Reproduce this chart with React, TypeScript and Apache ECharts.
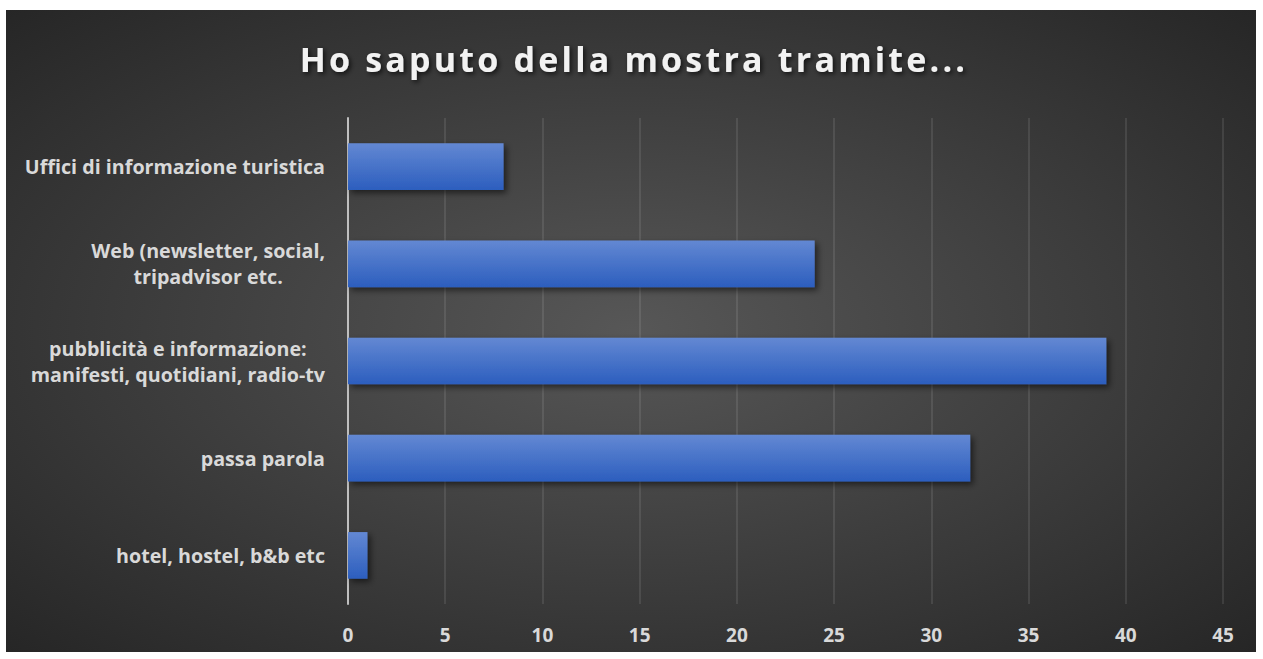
import React, { useEffect, useRef } from "react";
import * as echarts from "echarts";

const title = "Ho saputo della mostra tramite...";
const categories = [
  "Uffici di informazione turistica",
  "Web (newsletter, social,\ntripadvisor etc.",
  "pubblicità e informazione:\nmanifesti, quotidiani, radio-tv",
  "passa parola",
  "hotel, hostel, b&b etc",
];
const values = [8, 24, 39, 32, 1];
const xMin = 0;
const xMax = 45;
const xStep = 5;

const FONT = "Open Sans";

export default function App() {
  const ref = useRef<HTMLDivElement>(null);
  useEffect(() => {
    if (!ref.current) return;
    const chart = echarts.init(ref.current, undefined, { renderer: "svg" });
    chart.setOption({
      animation: false,
      backgroundColor: new echarts.graphic.RadialGradient(0.5, 0.5, 0.75, [
        { offset: 0, color: "#575757" },
        { offset: 1, color: "#232323" },
      ]),
      graphic: [
        {
          type: "text",
          x: 628,
          y: 49,
          style: {
            text: title,
            fill: "#f2f2f2",
            font: `bold 34px "${FONT}"`,
            align: "center",
            verticalAlign: "middle",
            textShadowColor: "rgba(0,0,0,0.7)",
            textShadowBlur: 5,
            textShadowOffsetX: 2,
            textShadowOffsetY: 2,
          },
        },
      ],
      grid: { left: 342, right: 33, top: 108, bottom: 48, containLabel: false },
      xAxis: {
        type: "value",
        min: xMin,
        max: xMax,
        interval: xStep,
        axisLine: { show: false },
        axisTick: { show: false },
        splitLine: { lineStyle: { color: "rgba(255,255,255,0.13)", width: 1.5 } },
        axisLabel: {
          color: "#d9d9d9",
          fontFamily: FONT,
          fontWeight: "bold",
          fontSize: 19,
          margin: 21,
        },
      },
      yAxis: {
        type: "category",
        inverse: true,
        data: categories,
        axisLine: { show: true, lineStyle: { color: "#bfbfbf", width: 2 } },
        axisTick: { show: false },
        axisLabel: {
          color: "#d9d9d9",
          fontFamily: FONT,
          fontWeight: "bold",
          fontSize: 19.7,
          lineHeight: 26,
          margin: 23,
          align: "right",
          formatter: (v: string) =>
            v
              .split("\n")
              .map((l) => `{c|${l}}`)
              .join("\n"),
          rich: {
            c: {
              align: "center",
              color: "#d9d9d9",
              fontFamily: FONT,
              fontWeight: "bold",
              fontSize: 19.7,
              lineHeight: 26,
            },
          },
        },
      },
      series: [
        {
          type: "bar",
          data: values,
          barCategoryGap: "52%",
          itemStyle: {
            color: new echarts.graphic.LinearGradient(0, 0, 0, 1, [
              { offset: 0, color: "#6388d3" },
              { offset: 1, color: "#2c5ebe" },
            ]),
            shadowColor: "rgba(0,0,0,0.55)",
            shadowBlur: 6,
            shadowOffsetX: 3,
            shadowOffsetY: 3,
          },
        },
      ],
    });
    const texts = ref.current.querySelectorAll("text");
    texts.forEach((t) => {
      if (t.textContent === title) {
        t.setAttribute("letter-spacing", "3.2");
      }
    });
    return () => chart.dispose();
  }, []);
  return (
    <div style={{ position: "absolute", left: 0, top: 0, width: 1263, height: 659, background: "#fff" }}>
      <div
        ref={ref}
        style={{ position: "absolute", left: 6, top: 10, width: 1250, height: 642 }}
      />
    </div>
  );
}
